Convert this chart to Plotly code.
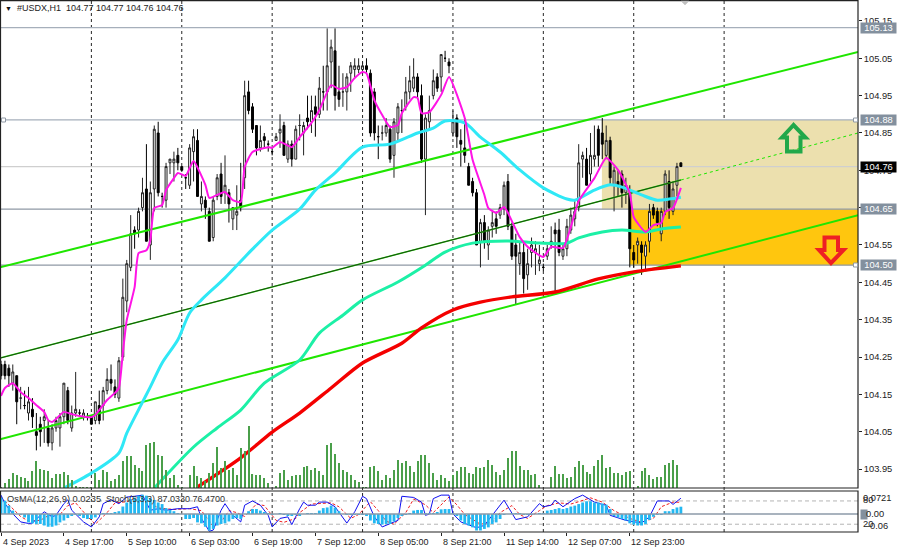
import plotly.graph_objects as go

# ---------- candles (hourly #USDX) ----------
opens = [104.23,104.23,104.22,104.18,104.20,104.14,104.12,104.10,104.11,104.05,104.07,104.08,104.06,104.02,104.06,104.06,104.09,104.16,104.06,104.10,
104.10,104.09,104.09,104.09,104.08,104.12,104.12,104.16,104.19,104.17,104.14,104.25,104.40,104.49,104.59,104.59,104.65,104.70,104.55,104.70,
104.85,104.68,104.67,104.77,104.77,104.79,104.76,104.73,104.71,104.80,104.83,104.66,104.67,104.64,104.57,104.68,104.74,104.69,104.69,104.62,
104.63,104.67,104.73,104.96,104.92,104.87,104.81,104.84,104.82,104.80,104.83,104.85,104.87,104.78,104.82,104.78,104.87,104.85,104.89,104.88,
104.92,104.90,104.96,104.96,105.04,105.07,104.96,104.96,104.96,105.01,105.02,105.02,105.02,105.03,105.01,104.96,104.84,104.85,104.85,104.86,
104.79,104.85,104.91,104.92,104.96,104.97,105.00,104.95,104.78,104.88,104.95,105.00,105.00,105.05,105.04,104.85,104.89,104.83,104.81,104.76,
104.72,104.69,104.56,104.61,104.55,104.60,104.62,104.63,104.65,104.72,104.60,104.55,104.50,104.53,104.47,104.53,104.53,104.50,104.49,104.52,
104.55,104.59,104.59,104.52,104.54,104.59,104.62,104.65,104.78,104.78,104.74,104.78,104.86,104.85,104.79,104.83,104.71,104.72,104.74,104.69,
104.69,104.53,104.55,104.55,104.52,104.56,104.65,104.64,104.58,104.64,104.72,104.64,104.71,104.77]
highs = [104.24,104.24,104.23,104.23,104.20,104.17,104.16,104.17,104.14,104.10,104.09,104.11,104.08,104.07,104.09,104.10,104.18,104.17,104.12,104.21,
104.11,104.11,104.10,104.09,104.13,104.16,104.17,104.22,104.23,104.19,104.25,104.46,104.51,104.63,104.60,104.65,104.73,104.82,104.72,104.87,
104.88,104.69,104.77,104.78,104.80,104.81,104.76,104.74,104.82,104.86,104.86,104.72,104.68,104.65,104.68,104.74,104.77,104.79,104.70,104.65,
104.71,104.77,104.99,104.99,104.93,104.87,104.87,104.85,104.83,104.81,104.85,104.90,104.88,104.83,104.83,104.87,104.90,104.88,104.95,104.95,
104.95,105.00,105.03,105.13,105.10,105.13,105.03,105.01,105.01,105.04,105.05,105.05,105.04,105.05,105.02,104.97,104.87,104.87,104.89,104.87,
104.89,104.93,104.94,105.00,105.03,105.05,105.01,104.98,104.90,104.95,105.02,105.01,105.06,105.07,105.05,104.91,104.90,104.86,104.89,104.77,
104.73,104.70,104.62,104.63,104.60,104.64,104.64,104.66,104.72,104.74,104.61,104.58,104.56,104.56,104.54,104.57,104.56,104.55,104.50,104.55,
104.60,104.61,104.62,104.55,104.62,104.65,104.67,104.82,104.80,104.81,104.85,104.87,104.87,104.89,104.87,104.84,104.76,104.75,104.75,104.73,
104.71,104.55,104.57,104.56,104.56,104.66,104.66,104.65,104.65,104.75,104.75,104.72,104.77,104.77]
lows = [104.19,104.19,104.17,104.16,104.07,104.11,104.11,104.08,104.06,104.00,104.01,104.02,104.01,104.00,104.05,104.01,104.07,104.07,104.05,104.09,
104.09,104.08,104.08,104.07,104.07,104.07,104.08,104.15,104.16,104.14,104.13,104.24,104.37,104.48,104.54,104.57,104.64,104.56,104.51,104.64,
104.68,104.65,104.65,104.74,104.72,104.75,104.75,104.70,104.70,104.72,104.68,104.64,104.62,104.56,104.56,104.67,104.66,104.66,104.61,104.59,
104.59,104.64,104.70,104.90,104.85,104.79,104.80,104.81,104.80,104.79,104.83,104.81,104.79,104.77,104.76,104.78,104.83,104.79,104.86,104.85,
104.84,104.89,104.91,104.91,104.97,104.91,104.92,104.92,104.91,104.96,105.00,105.01,105.01,105.01,104.84,104.83,104.78,104.83,104.84,104.77,
104.73,104.83,104.85,104.91,104.94,104.96,104.94,104.77,104.63,104.86,104.94,104.96,104.96,105.04,105.01,104.84,104.81,104.76,104.77,104.71,
104.68,104.55,104.49,104.54,104.51,104.57,104.58,104.62,104.63,104.59,104.51,104.39,104.47,104.42,104.43,104.49,104.47,104.48,104.48,104.51,
104.54,104.42,104.52,104.51,104.52,104.58,104.60,104.64,104.73,104.71,104.72,104.76,104.76,104.78,104.78,104.71,104.64,104.68,104.65,104.66,
104.49,104.49,104.50,104.47,104.48,104.53,104.62,104.60,104.56,104.63,104.62,104.63,104.68,104.76]
closes = [104.20,104.20,104.20,104.21,104.13,104.14,104.12,104.13,104.09,104.04,104.05,104.09,104.02,104.06,104.08,104.09,104.18,104.08,104.10,104.11,
104.10,104.10,104.09,104.07,104.13,104.08,104.16,104.19,104.18,104.15,104.24,104.41,104.50,104.58,104.58,104.64,104.69,104.56,104.69,104.86,
104.69,104.68,104.76,104.78,104.78,104.77,104.75,104.73,104.81,104.84,104.68,104.68,104.65,104.56,104.67,104.73,104.68,104.71,104.66,104.65,
104.64,104.65,104.95,104.91,104.86,104.81,104.83,104.83,104.82,104.80,104.84,104.86,104.79,104.82,104.78,104.86,104.87,104.87,104.88,104.91,
104.90,104.97,104.96,105.03,105.08,104.95,104.94,104.96,105.00,105.03,105.03,105.03,105.03,105.02,104.85,104.85,104.84,104.85,104.87,104.78,
104.88,104.92,104.91,104.96,104.99,105.00,104.96,104.78,104.89,104.91,104.99,104.97,105.06,105.05,105.03,104.88,104.84,104.82,104.79,104.71,
104.69,104.55,104.61,104.56,104.59,104.61,104.60,104.65,104.71,104.60,104.52,104.52,104.53,104.46,104.50,104.55,104.54,104.51,104.49,104.54,
104.56,104.58,104.53,104.54,104.60,104.63,104.64,104.77,104.79,104.71,104.79,104.79,104.79,104.82,104.83,104.73,104.75,104.71,104.69,104.71,
104.54,104.51,104.56,104.53,104.55,104.64,104.63,104.61,104.64,104.74,104.65,104.70,104.76,104.76]

# ---------- tick volume ----------
volumes = [1,5,9,15,13,11,10,7,17,27,19,18,17,10,14,14,16,13,8,2,1,1,1,1,15,8,18,16,7,9,13,27,32,32,23,20,17,43,45,46,33,32,18,10,13,3,1,0,13,22,
12,10,7,15,25,41,20,27,18,20,13,40,37,62,14,13,13,10,5,0,2,15,18,8,12,13,13,21,22,18,20,17,13,43,45,34,25,18,16,13,8,6,1,1,21,22,17,8,13,10,
18,28,25,27,22,16,27,33,33,25,15,8,13,10,7,13,17,21,21,15,14,21,20,21,28,23,16,13,18,30,37,37,22,18,18,13,14,3,0,0,11,22,14,14,10,11,21,27,23,16,
14,22,28,33,20,21,15,15,13,16,17,0,2,17,20,13,9,11,11,23,25,28,23,0]

# ---------- moving averages (bar, price) ----------
ma_fast_bars = [0,1,3,5,7,9,11,12,13,14,16,18,20,23,24,27,29,30,31,32,34,35,37,38,39,41,42,44,45,47,48,49,52,53,56,57,59,61,62,64,68,69,71,74,76,79,81,84,86,88,90,92,93,95,97,99,101,102,105,106,107,109,112,114,118,120,123,124,126,128,129,132,134,138,140,143,145,147,151,154,157,160,161,164,166,168,169,171,173]
ma_fast = [104.146,104.167,104.180,104.156,104.140,104.121,104.103,104.081,104.076,104.084,104.103,104.097,104.092,104.089,104.095,104.135,104.154,104.167,104.261,104.349,104.437,104.528,104.536,104.563,104.649,104.657,104.697,104.729,104.743,104.735,104.756,104.775,104.711,104.676,104.689,104.692,104.670,104.665,104.759,104.799,104.812,104.810,104.826,104.812,104.839,104.877,104.911,104.978,104.968,104.973,104.997,105.013,105.010,104.938,104.898,104.866,104.871,104.903,104.946,104.944,104.903,104.906,104.952,105.000,104.890,104.778,104.684,104.649,104.636,104.652,104.636,104.571,104.545,104.518,104.545,104.542,104.598,104.668,104.729,104.783,104.751,104.689,104.625,104.585,104.603,104.609,104.638,104.649,104.703]
ma_mid_bars = [16,23,30,32,36,38,41,45,48,51,57,64,69,76,80,85,92,99,106,110,113,118,122,127,132,138,144,146,151,155,158,163,167,170,173]
ma_mid = [103.899,103.939,103.993,104.046,104.129,104.170,104.234,104.296,104.368,104.403,104.462,104.539,104.590,104.646,104.697,104.743,104.812,104.820,104.850,104.863,104.882,104.877,104.839,104.799,104.751,104.703,104.673,104.670,104.697,104.711,104.705,104.684,104.670,104.673,104.678]
ma_slow_bars = [39,49,55,61,67,76,81,87,92,101,108,113,120,129,137,144,147,153,158,164,168,173]
ma_slow = [103.899,104.009,104.060,104.108,104.180,104.242,104.314,104.362,104.403,104.451,104.496,104.531,104.555,104.561,104.555,104.555,104.569,104.585,104.590,104.585,104.593,104.598]
ma_long_bars = [50,61,69,76,84,92,102,107,115,122,130,141,152,161,173]
ma_long = [103.902,103.980,104.049,104.100,104.167,104.234,104.287,104.328,104.376,104.397,104.411,104.424,104.459,104.478,104.494]

# ---------- channel lines (bar, price) ----------
trend_bars = [-0.25, 218.1]
trend_upper = [104.490, 105.067]
trend_lower = [104.030, 104.630]
trend_mid_bars = [-0.25, 173]
trend_mid = [104.247, 104.724]
trend_ext_bars = [173, 218.1]
trend_ext = [104.724, 104.850]

# ---------- indicators ----------
osma = [.053,.043,.027,.011,0,-.003,-.011,-.027,-.030,-.032,-.032,-.037,-.041,-.041,-.037,-.027,-.021,-.013,-.005,-.003,-.005,-.013,-.016,-.016,-.011,-.003,.003,.002,.003,.005,.009,.024,.037,.048,.053,.059,.062,.059,.051,.045,
.037,.032,.019,.013,.009,.003,0,-.016,-.016,-.013,-.027,-.030,-.041,-.053,-.048,-.037,-.032,-.030,-.024,-.016,-.013,-.016,0,.009,.016,.016,.011,.005,.002,-.003,0,.002,-.002,-.005,-.005,-.003,-.005,
0,.002,.003,.002,.011,.019,.021,.027,.021,.009,0,-.002,-.003,-.003,-.002,-.003,-.005,-.021,-.030,-.032,-.034,-.032,-.032,-.024,-.013,-.005,-.002,.003,.011,.013,.013,.003,.002,.003,.005,.015,.016,.016,.002,-.005,-.021,-.032,-.037,-.043,-.053,-.053,-.048,-.043,-.032,-.027,-.016,-.003,0,.002,.002,.002,-.003,-.003,-.002,0,.001,.002,.011,.013,.016,.019,.016,.019,.024,.027,.032,.037,.041,.041,.037,.037,
.034,.030,.016,-.005,-.011,-.016,-.021,-.030,-.034,-.037,-.037,-.032,-.019,-.009,-.003,-.002,.009,.009,.016,.021,.0235]
stoch_bars = [0,1,3,5,7,8,10,11,13,14,16,17,18,21,23,25,26,28,30,32,34,36,38,40,42,45,47,48,50,51,53,54,56,57,59,61,62,64,66,68,69,71,73,74,76,77,78,80,81,83,85,88,90,92,93,95,97,99,101,102,105,107,108,109,110,112,114,115,117,121,123,125,128,131,134,137,138,140,141,143,146,148,151,153,154,155,157,159,163,165,167,170,171,173]
stoch_main = [95,73,47,26,22,23,43,52,39,43,73,83,56,26,13,39,73,83,73,90,92,95,56,60,56,60,60,60,65,35,2,5,56,73,43,26,69,80,69,43,13,35,39,19,60,77,69,69,77,77,65,23,52,92,86,39,13,22,30,92,89,77,43,46,86,95,95,47,26,11,17,43,82,32,39,73,65,69,82,65,86,95,77,71,69,43,37,30,23,39,80,80,71,87.03]
signal_bars = [0,2,5,7,10,12,15,17,19,22,24,27,29,32,35,37,40,44,48,51,54,56,58,60,62,65,67,70,72,75,76,79,84,86,89,91,94,96,98,100,103,105,108,110,112,114,116,118,122,125,127,130,132,134,137,139,142,145,147,150,153,156,160,163,166,168,171,173]
stoch_signal = [90,70,40,28,30,42,45,68,75,40,20,50,75,78,90,80,62,58,60,55,15,25,55,50,40,72,68,30,25,35,50,72,75,65,35,45,78,55,28,20,50,85,70,50,70,90,70,45,20,25,50,68,45,35,55,68,75,72,78,88,77,55,35,25,35,65,77,76.47]

# ---------- levels and labels ----------
price_ticks = [105.15,105.05,104.95,104.85,104.75,104.65,104.55,104.45,104.35,104.25,104.15,104.05,103.95]
level_values = [105.132,104.885,104.646,104.496]
level_labels = ["105.13","104.88","104.65","104.50"]
last_value = 104.76
grid_bars = [23,46,69,92,115,138,161,184]
time_bars = [0,16,32,48,64,80,96,112,128,144,160]
time_labels = ["4 Sep 2023","4 Sep 17:00","5 Sep 10:00","6 Sep 03:00","6 Sep 19:00","7 Sep 12:00","8 Sep 05:00","8 Sep 21:00","11 Sep 14:00","12 Sep 07:00","12 Sep 23:00"]

assert len(opens)==len(highs)==len(lows)==len(closes)==len(volumes)==len(osma)==174, (len(opens),len(highs),len(lows),len(closes),len(volumes),len(osma))
assert len(ma_fast_bars)==len(ma_fast) and len(ma_mid_bars)==len(ma_mid) and len(ma_slow_bars)==len(ma_slow) and len(ma_long_bars)==len(ma_long)
assert len(stoch_bars)==len(stoch_main) and len(signal_bars)==len(stoch_signal)

bars = list(range(len(opens)))
PW, PH = 858.0, 532.0
XMAX = 218.07
FONT = "Liberation Sans"
def px(x): return x / PW
def py(y): return (PH - y) / PH

fig = go.Figure()
fig.add_trace(go.Bar(x=bars, y=volumes, yaxis="y4", width=0.28, marker=dict(color="#4a9f4a", line=dict(width=0)), hoverinfo="skip"))
fig.add_trace(go.Candlestick(x=bars, open=opens, high=highs, low=lows, close=closes,
    increasing=dict(line=dict(color="#222", width=1), fillcolor="#ffffff"),
    decreasing=dict(line=dict(color="#000", width=1), fillcolor="#000000"),
    whiskerwidth=0, hoverinfo="skip"))
def line(x, y, color, w, dash=None, axis="y", smooth=None):
    ln = dict(color=color, width=w, dash=dash)
    if smooth:
        ln.update(shape="spline", smoothing=smooth)
    fig.add_trace(go.Scatter(x=x, y=y, mode="lines", yaxis=axis, line=ln, hoverinfo="skip"))
line(trend_bars, trend_upper, "#1fe600", 2)
line(trend_bars, trend_lower, "#1fe600", 2)
line(trend_mid_bars, trend_mid, "#1fe600", 1.5)
line(trend_mid_bars, trend_mid, "#1a1a1a", 0.8)
line(trend_ext_bars, trend_ext, "#1fe600", 1, "3px,3px")
line(ma_long_bars, ma_long, "#f40000", 3.4, smooth=0.8)
line(ma_slow_bars, ma_slow, "#1cf0a6", 3, smooth=0.8)
line(ma_mid_bars, ma_mid, "#2fe8f6", 3, smooth=0.8)
line(ma_fast_bars, ma_fast, "#ff14e6", 2, smooth=0.5)
# indicator window
fig.add_trace(go.Bar(x=bars, y=osma, yaxis="y3", width=0.72, marker=dict(color="#22b8f2", line=dict(width=0)), hoverinfo="skip"))
line(signal_bars, stoch_signal, "#f02020", 1, "3px,2px", "y2")
line(stoch_bars, stoch_main, "#1010f0", 1, None, "y2")

shapes = [
    dict(type="rect", xref="x", yref="y", x0=152.9, x1=XMAX, y0=level_values[2], y1=level_values[1], fillcolor="#ece0ae", line=dict(width=0), layer="below"),
    dict(type="rect", xref="x", yref="y", x0=160, x1=XMAX, y0=level_values[3], y1=level_values[2], fillcolor="#ffc60e", line=dict(width=0), layer="below"),
]
for g in grid_bars:
    shapes.append(dict(type="line", xref="x", yref="paper", x0=g, x1=g, y0=0, y1=1, line=dict(color="#262626", width=1, dash="3px,3px"), layer="below"))
for i, v in enumerate(level_values):
    shapes.append(dict(type="line", xref="x", yref="y", x0=-0.25, x1=XMAX, y0=v, y1=v, line=dict(color="#a6afbb" if i < 2 else "#8f99a5", width=1.4), layer="below"))
shapes.append(dict(type="line", xref="x", yref="y", x0=-0.25, x1=XMAX, y0=last_value, y1=last_value, line=dict(color="#cfcfcf", width=1.2), layer="below"))
# indicator window lines
for v in (80, 20):
    shapes.append(dict(type="line", xref="x", yref="y2", x0=-0.25, x1=XMAX, y0=v, y1=v, line=dict(color="#b4b4b4", width=1, dash="4px,3px"), layer="below"))
shapes.append(dict(type="line", xref="x", yref="y3", x0=-0.25, x1=XMAX, y0=0, y1=0, line=dict(color="#8c9aa8", width=1.5), layer="above"))
# frames
shapes.append(dict(type="rect", xref="paper", yref="paper", x0=px(0.5), x1=1, y0=py(488), y1=py(0.7), line=dict(color="#222", width=1.2), fillcolor="rgba(0,0,0,0)"))
shapes.append(dict(type="rect", xref="paper", yref="paper", x0=px(0.5), x1=1, y0=py(532), y1=py(491), line=dict(color="#222", width=1.2), fillcolor="rgba(0,0,0,0)"))
# arrows and markers
def path(points):
    return "M " + " L ".join(f"{px(a):.5f},{py(b):.5f}" for a, b in points) + " Z"
shapes.append(dict(type="path", xref="paper", yref="paper", path=path([(793.5,125),(782,137.5),(787,137.5),(787,151.5),(800.5,151.5),(800.5,137.5),(805.5,137.5)]), line=dict(color="#21a84a", width=4), fillcolor="rgba(0,0,0,0)"))
shapes.append(dict(type="path", xref="paper", yref="paper", path=path([(824.5,237.5),(838,237.5),(838,250),(843.5,250),(831,263),(819,250),(824.5,250)]), line=dict(color="#ee2024", width=4), fillcolor="rgba(0,0,0,0)"))
shapes.append(dict(type="path", xref="paper", yref="paper", path=path([(681,1),(689,1),(685,5)]), line=dict(color="#c0c0c0", width=0.5), fillcolor="#c0c0c0"))
for (a, b) in [(3.5,120),(855.5,120),(855.5,265)]:
    shapes.append(dict(type="rect", xref="paper", yref="paper", x0=px(a-2), x1=px(a+2), y0=py(b+2), y1=py(b-2), fillcolor="#ffffff", line=dict(color="#8f99a5", width=1)))

ann = []
def text(x, y, s, color="#222", size=9.3, bg=None, anchor="left", **kw):
    a = dict(xref="paper", yref="paper", x=px(x), y=py(y), text=s, showarrow=False, xanchor=anchor, yanchor="middle",
             font=dict(family=FONT, size=size, color=color), borderpad=0, align="left")
    if bg: a["bgcolor"] = bg
    a.update(kw)
    ann.append(a)

text(4, 8, "\u25bc", "#111", 7)
text(16, 8, "#USDX,H1  104.77 104.77 104.76 104.76", "#222", 9)
text(6, 499, "OsMA(12,26,9) 0.0235", "#333", 9.3)
text(105, 499, "Stoch(5,3,3) 87.0330 76.4700", "#333", 9)
for b, lab in zip(time_bars, time_labels):
    ann.append(dict(xref="x", yref="paper", x=b, y=py(541.5), text=lab, showarrow=False, xanchor="left", yanchor="middle",
                    xshift=-0.5, font=dict(family=FONT, size=9, color="#222")))
for v, lab in zip(level_values, level_labels):
    ann.append(dict(xref="paper", yref="y", x=1, y=v, text=lab, showarrow=False, xanchor="left", yanchor="middle", xshift=2,
                    width=35, height=10, align="center", bgcolor="#83909e", borderpad=0, font=dict(family=FONT, size=9.3, color="#ffffff")))
ann.append(dict(xref="paper", yref="y", x=1, y=last_value, text="104.76", showarrow=False, xanchor="left", yanchor="middle", xshift=2,
                width=35, height=10, align="center", bgcolor="#000000", borderpad=0, font=dict(family=FONT, size=9.3, color="#ffffff")))
text(862, 497.7, "0.0721")
text(862, 500, "80")
ann.append(dict(xref="paper", yref="paper", x=px(860), y=py(514), text=" ", showarrow=False, xanchor="left", yanchor="middle", width=6, height=9, bgcolor="#83909e", borderpad=0, font=dict(size=8)))
text(865, 514.3, "0.00")
text(862, 524, "20")
text(866, 526, "-0.06")

fig.update_layout(
    width=900, height=553, margin=dict(l=0, r=42, t=0, b=21), autosize=False,
    paper_bgcolor="#ffffff", plot_bgcolor="#ffffff", showlegend=False, barmode="overlay",
    shapes=shapes, annotations=ann, hovermode=False,
    xaxis=dict(range=[-0.254, XMAX], anchor="y2", showgrid=False, zeroline=False, showline=False, rangeslider=dict(visible=False),
               tickmode="array", tickvals=time_bars, ticktext=[""] * len(time_bars), ticks="outside", ticklen=3, tickcolor="#222"),
    yaxis=dict(domain=[44/532, 1], range=[103.8992, 105.2061], side="right", showgrid=False, zeroline=False, showline=False,
               tickmode="array", tickvals=price_ticks, ticktext=[f"{v:.2f}" for v in price_ticks], ticks="outside", ticklen=3, tickcolor="#222",
               tickfont=dict(family=FONT, size=9.3, color="#222")),
    yaxis2=dict(domain=[0, 41/532], range=[0, 105.6], showgrid=False, zeroline=False, showticklabels=False, ticks=""),
    yaxis3=dict(overlaying="y2", range=[-0.0579, 0.074], showgrid=False, zeroline=False, showticklabels=False, ticks=""),
    yaxis4=dict(overlaying="y", range=[0, 488], showgrid=False, zeroline=False, showticklabels=False, ticks=""),
)
fig.write_html("out.html", config={"displayModeBar": False}, post_script="document.body.style.margin='0';document.body.style.overflow='hidden';")
